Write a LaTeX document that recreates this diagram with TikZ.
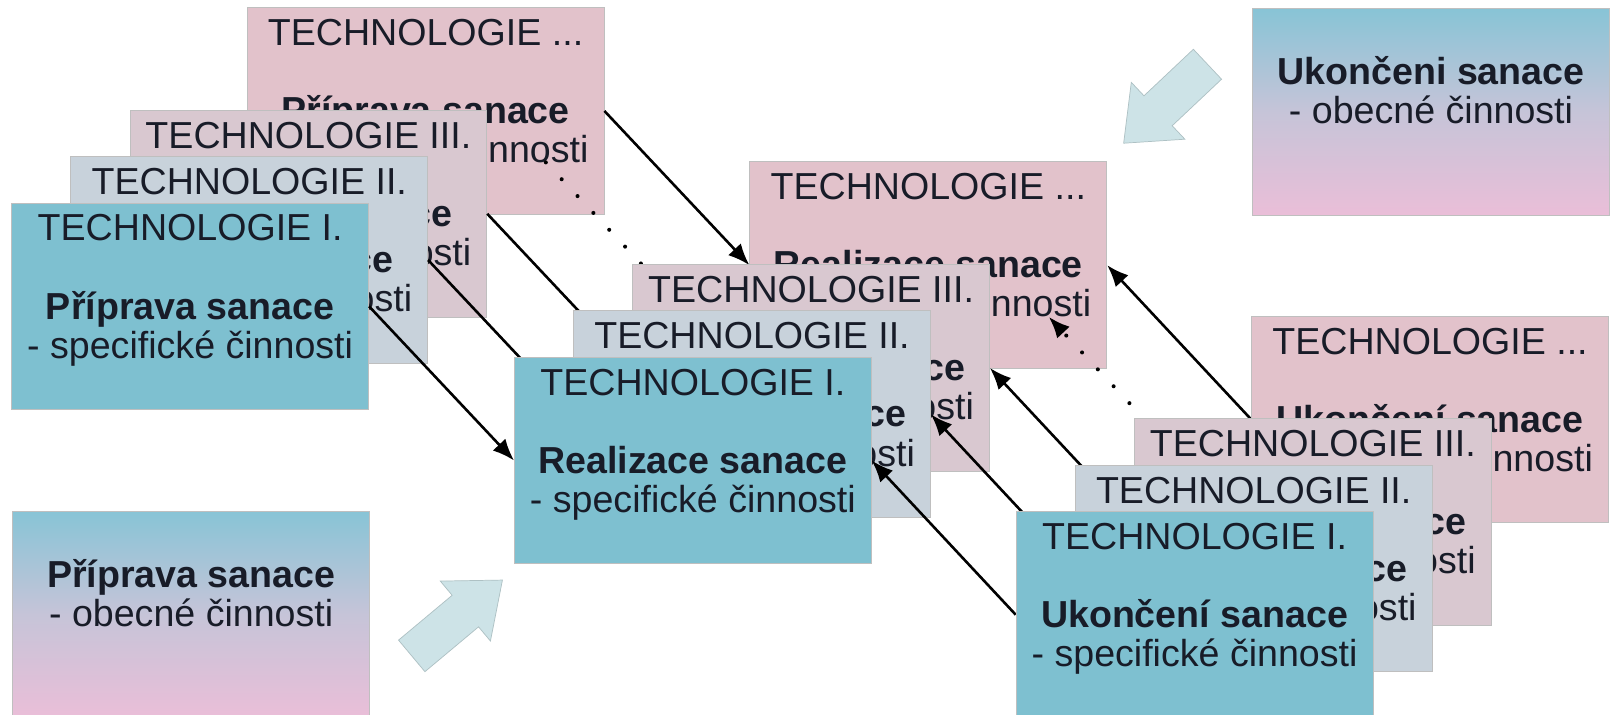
\documentclass[tikz,border=0pt]{standalone}
\usepackage{fontspec}
\setmainfont{Liberation Sans}
\usetikzlibrary{arrows.meta,calc}

\definecolor{tyrkys}{RGB}{126,192,208}
\definecolor{modrosede}{RGB}{200,210,219}
\definecolor{ruzovosede}{RGB}{217,200,208}
\definecolor{ruzove}{RGB}{226,194,203}
\definecolor{svetle}{RGB}{205,227,231}
\definecolor{pismo}{RGB}{24,28,40}

\pgfdeclarelayer{pozadi}
\pgfdeclarelayer{priprava}
\pgfdeclarelayer{sipkyP}
\pgfdeclarelayer{realizace}
\pgfdeclarelayer{sipkyU}
\pgfsetlayers{pozadi,priprava,sipkyP,realizace,sipkyU,main}

\tikzset{
	karta/.style={anchor=north west, inner sep=0pt, draw=black!25, line width=0.6pt, text=pismo,
		execute at begin node={\begin{minipage}[t][5.025cm][t]{8.675cm}\centering\fontsize{26}{27}\selectfont\rule{0pt}{#1}},
		execute at end node={\end{minipage}}},
	karta/.default=26.3pt,
	tech1/.style={karta, fill=tyrkys},
	tech2/.style={karta, fill=modrosede},
	tech3/.style={karta, fill=ruzovosede},
	techN/.style={karta, fill=ruzove},
	obecne/.style={karta=52.6pt, top color={rgb,255:red,136;green,196;blue,214}, bottom color={rgb,255:red,234;green,190;blue,216}, middle color={rgb,255:red,198;green,196;blue,216}},
	sipka/.style={draw=black, line width=1.8pt, -{Latex[length=15pt,width=12pt]}},
	tecky/.style={draw=black, line width=2.8pt, line cap=round, dash pattern=on 0pt off 16pt},
	velka/.style={fill=svetle, draw=svetle!85!black, line width=0.5pt}
}

\begin{document}
\begin{tikzpicture}[x=0.025cm, y=-0.025cm]
	\begin{pgfonlayer}{pozadi}
		\fill[white] (0,0) rectangle (1568,695);
	\end{pgfonlayer}
	\useasboundingbox (0,0) rectangle (1568,695);

	% priprava sanace
	\begin{pgfonlayer}{priprava}
		\node[techN] (p4) at (240,7) {TECHNOLOGIE ...\\[27pt]\textbf{Příprava sanace}\\- specifické činnosti};
		\node[tech3] (p3) at (126,107) {TECHNOLOGIE III.\\[27pt]\textbf{Příprava sanace}\\- specifické činnosti};
		\node[tech2] (p2) at (68.5,152) {TECHNOLOGIE II.\\[27pt]\textbf{Příprava sanace}\\- specifické činnosti};
		\node[tech1] (p1) at (11,197) {TECHNOLOGIE I.\\[27pt]\textbf{Příprava sanace}\\- specifické činnosti};
		\node[obecne] (po) at (12,497) {\textbf{Příprava sanace}\\- obecné činnosti};
	\end{pgfonlayer}

	% realizace sanace
	\begin{pgfonlayer}{realizace}
		\node[techN] (r4) at (729,157) {TECHNOLOGIE ...\\[27pt]\textbf{Realizace sanace}\\- specifické činnosti};
		\node[tech3] (r3) at (615,257) {TECHNOLOGIE III.\\[27pt]\textbf{Realizace sanace}\\- specifické činnosti};
		\node[tech2] (r2) at (557.5,302) {TECHNOLOGIE II.\\[27pt]\textbf{Realizace sanace}\\- specifické činnosti};
		\node[tech1] (r1) at (500,347) {TECHNOLOGIE I.\\[27pt]\textbf{Realizace sanace}\\- specifické činnosti};
	\end{pgfonlayer}

	% ukonceni sanace
	\node[techN] (u4) at (1217,307) {TECHNOLOGIE ...\\[27pt]\textbf{Ukončení sanace}\\- specifické činnosti};
	\node[tech3] (u3) at (1103,407) {TECHNOLOGIE III.\\[27pt]\textbf{Ukončení sanace}\\- specifické činnosti};
	\node[tech2] (u2) at (1045.5,452) {TECHNOLOGIE II.\\[27pt]\textbf{Ukončení sanace}\\- specifické činnosti};
	\node[tech1] (u1) at (988,497) {TECHNOLOGIE I.\\[27pt]\textbf{Ukončení sanace}\\- specifické činnosti};
	\node[obecne] (uo) at (1218,8) {\textbf{Ukončeni sanace}\\- obecné činnosti};

	% velke sipky
	\begin{scope}[shift={(400.5,638)}, rotate=39.9]
		\filldraw[velka] (0,-20) -- (68,-20) -- (68,-38) -- (115,0) -- (68,38) -- (68,20) -- (0,20) -- cycle;
	\end{scope}
	\begin{scope}[shift={(1174.5,62.5)}, rotate=223.3]
		\filldraw[velka] (0,-20) -- (66,-20) -- (66,-38) -- (112,0) -- (66,38) -- (66,20) -- (0,20) -- cycle;
	\end{scope}

	\begin{pgfonlayer}{sipkyP}
		\foreach \i in {1,...,4}
			\draw[sipka] (p\i.east) -- (r\i.west);
		\draw[tecky] ($(p3.east)!0.5!(p4.east)$) -- ($(r3.west)!0.5!(r4.west)$);
	\end{pgfonlayer}

	\begin{pgfonlayer}{sipkyU}
		\foreach \i in {1,...,4}
			\draw[sipka] (u\i.west) -- (r\i.east);
		\draw[tecky, -{Latex[length=15pt,width=12pt]}] ($(u3.west)!0.5!(u4.west)$) -- ($(r3.east)!0.5!(r4.east)$);
	\end{pgfonlayer}
\end{tikzpicture}
\end{document}
